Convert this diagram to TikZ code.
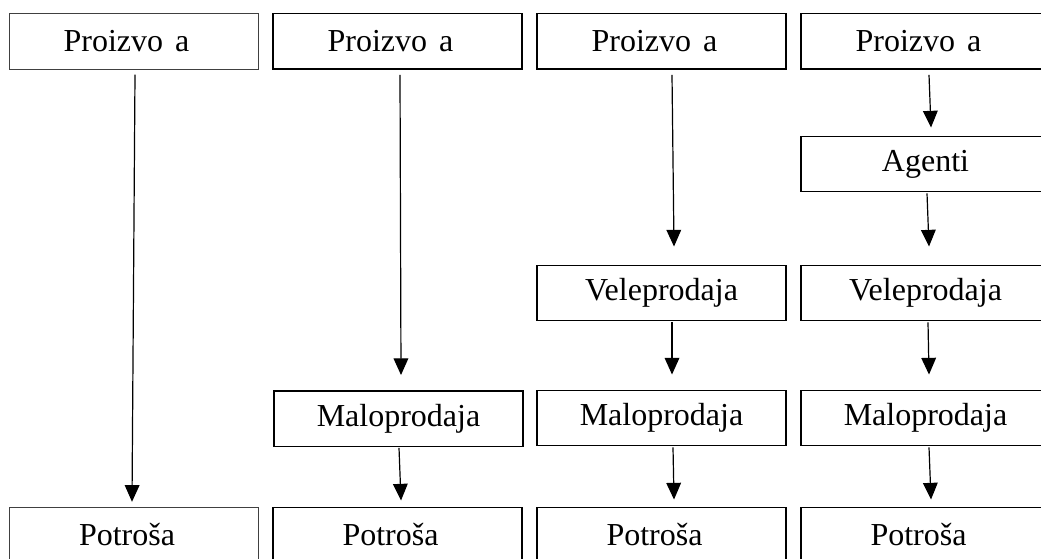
\documentclass[tikz,border=0pt]{standalone}
\usepackage{fontspec}
\setmainfont{Liberation Serif}
\usetikzlibrary{arrows.meta,calc}

\begin{document}
\begin{tikzpicture}[x=0.75pt,y=0.75pt,yscale=-1,xscale=1,
  box/.style={draw,line width=1.1pt,minimum width=186.75pt,minimum height=41.6pt,inner sep=0pt,font=\fontsize{24}{26}\selectfont},
  thinbox/.style={box,line width=0.7pt,draw=black!75},
  flow/.style={-{Triangle[width=11pt,length=12.5pt]},line width=0.9pt}]
\clip (0,0) rectangle (1041,559);

%Shape: Rectangle [id:col1]
\draw (133.5,41.5) node [thinbox] (prodA) {Proizvo\kern9pt a\kern10.5pt};
\draw (134,535) node [thinbox] (potrA) {Potroša\kern10.5pt};

%Shape: Rectangle [id:col2]
\draw (397.5,41.5) node [box] (prodB) {Proizvo\kern9pt a\kern10.5pt};
\draw (398.5,418.5) node [box] (maloB) {Maloprodaja};
\draw (397.5,535) node [box] (potrB) {Potroša\kern10.5pt};

%Shape: Rectangle [id:col3]
\draw (661.5,41.5) node [box] (prodC) {Proizvo\kern9pt a\kern10.5pt};
\draw (661.5,293) node [box] (veleC) {Veleprodaja};
\draw (661.5,418) node [box] (maloC) {Maloprodaja};
\draw (661.5,535) node [box] (potrC) {Potroša\kern10.5pt};

%Shape: Rectangle [id:col4]
\draw (925.5,41.5) node [box] (prodD) {Proizvo\kern9pt a\kern10.5pt};
\draw (925.5,164) node [box] (agenD) {Agenti};
\draw (925.5,293) node [box] (veleD) {Veleprodaja};
\draw (925.5,418) node [box] (maloD) {Maloprodaja};
\draw (925.5,535) node [box] (potrD) {Potroša\kern10.5pt};

%Straight Lines [id:col1]
\draw [flow] ($(prodA.south)+(1.5,5)$) -- ($(potrA.north)+(-2,-5)$) ;
%Straight Lines [id:col2]
\draw [flow] ($(prodB.south)+(2.5,5)$) -- ($(maloB.north)+(2.5,-15)$) ;
\draw [flow] ($(maloB.south)+(0.5,1)$) -- ($(potrB.north)+(3.5,-6)$) ;
%Straight Lines [id:col3]
\draw [flow] ($(prodC.south)+(10.5,5)$) -- ($(veleC.north)+(12.5,-18)$) ;
\draw [flow] ($(veleC.south)+(10.5,1)$) -- ($(maloC.north)+(10.5,-15)$) ;
\draw [flow] ($(maloC.south)+(11.5,1)$) -- ($(potrC.north)+(12.5,-7)$) ;
%Straight Lines [id:col4]
\draw [flow] ($(prodD.south)+(3.5,5)$) -- ($(agenD.north)+(5.5,-8)$) ;
\draw [flow] ($(agenD.south)+(1.5,1)$) -- ($(veleD.north)+(3.5,-18)$) ;
\draw [flow] ($(veleD.south)+(2.5,1)$) -- ($(maloD.north)+(3.5,-15)$) ;
\draw [flow] ($(maloD.south)+(3.5,1)$) -- ($(potrD.north)+(5.5,-7)$) ;

\end{tikzpicture}
\end{document}
